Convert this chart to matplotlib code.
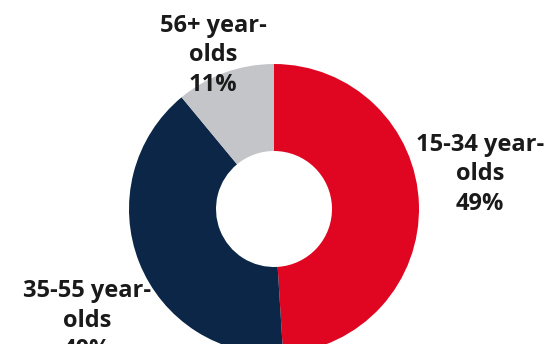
import matplotlib.pyplot as plt

groups = ["15-34 year-\nolds", "35-55 year-\nolds", "56+ year-\nolds"]
shares = [49, 40, 11]
colors = ["#E00621", "#0B2646", "#C4C5C9"]
label_pos = [(1.42, 0.24), (-1.29, -0.77), (-0.42, 1.06)]

fig = plt.figure(figsize=(5.46, 3.44), dpi=100)
ax = fig.add_axes([0, 0, 1, 1])

ax.pie(shares, colors=colors, startangle=90, counterclock=False, radius=1,
       wedgeprops=dict(width=0.6, linewidth=0))

for g, s, (x, y) in zip(groups, shares, label_pos):
    ax.text(x, y, f"{g}\n{s}%", ha="center", va="center", fontsize=17,
            fontweight="bold", family="Open Sans", color="#1a1a1a",
            linespacing=1.3)

ax.set_xlim(-274 / 145, (546 - 274) / 145)
ax.set_ylim(-(344 - 209) / 145, 209 / 145)
ax.set_aspect("equal")
ax.axis("off")

fig.savefig("out.png", dpi=100)
